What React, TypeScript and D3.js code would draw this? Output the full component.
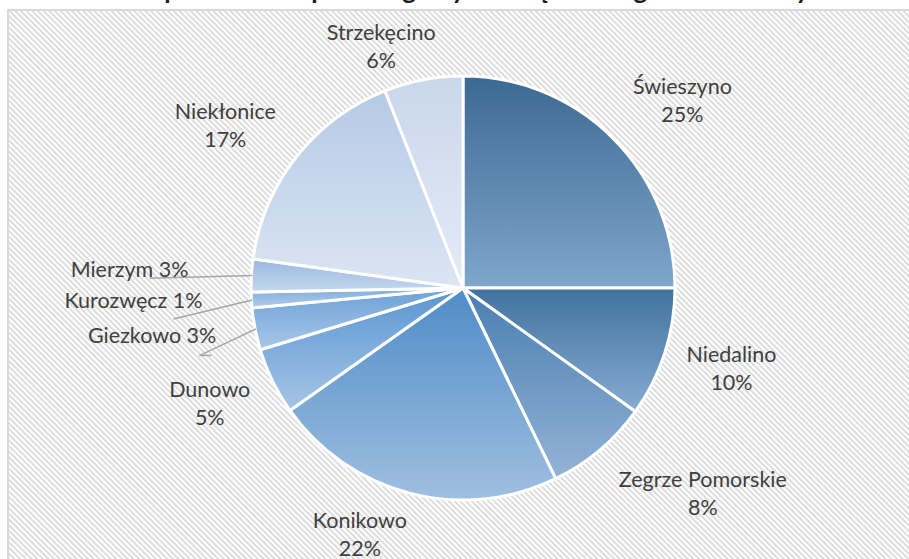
import React from "react";
import * as d3 from "d3";

const categories = [
  "Świeszyno",
  "Niedalino",
  "Zegrze Pomorskie",
  "Konikowo",
  "Dunowo",
  "Giezkowo",
  "Kurozwęcz",
  "Mierzym",
  "Niekłonice",
  "Strzekęcino",
];
const shares = [25.0, 9.9, 7.9, 22.4, 5.1, 3.2, 1.2, 2.5, 16.8, 6.0];
const titleText = "Udział powierzchni poszczególnych obrębów w gminie Świeszyno";

const gradTop = ["#3c6991", "#41729f", "#4a7eb0", "#4f8cc7", "#5a96d2", "#6ba1d8", "#80abdb", "#9ab8e0", "#b5cae6", "#c9d7eb"];
const gradBottom = ["#80a6cc", "#87abd1", "#94b3d6", "#a0bfe0", "#a7c5e6", "#aac7e7", "#b2cdea", "#c5d7ee", "#dbe5f3", "#e4ebf6"];

const W = 909;
const H = 559;
const cx = 463;
const cy = 288;
const R = 212;
const labelR = 282;
// label nudges (layout only)
const nudge: [number, number][] = [
  [20, 11], [0, -6], [58, -11], [-33, -27], [0, -9],
  [30, 0], [21, 4], [7, 6], [-16, 11], [-29, 35],
];
const smallLabel = [false, false, false, false, false, true, true, true, false, false];
// leader line end offsets relative to label anchor (layout only)
const leader: ([number, number][] | null)[] = [
  null, null, null, null, null,
  [[-17, 13], [-5, 13]],
  [[-29, 11]],
  [[-39, 1]],
  null, null,
];

export default function App() {
  const pie = d3.pie<number>().sort(null).value((d) => d).startAngle(0).endAngle(2 * Math.PI);
  const arcs = pie(shares);
  const arc = d3.arc<d3.PieArcDatum<number>>().innerRadius(0).outerRadius(R);
  const polar = (a: number, r: number): [number, number] => [cx + r * Math.sin(a), cy - r * Math.cos(a)];
  const font = "Lato, 'Open Sans', sans-serif";

  return (
    <svg width={W} height={H} style={{ position: "absolute", left: 0, top: 0, background: "#fff" }}>
      <defs>
        <pattern id="hatch" patternUnits="userSpaceOnUse" width={8} height={4} patternTransform="rotate(45)">
          <rect width={8} height={4} fill="#ffffff" />
          <rect width={8} height={1.9} fill="#dcdcdc" />
        </pattern>
        {arcs.map((a, i) => (
          <linearGradient key={i} id={`g${i}`} x1="0" y1="0" x2="0" y2="1">
            <stop offset="0" stopColor={gradTop[i]} />
            <stop offset="1" stopColor={gradBottom[i]} />
          </linearGradient>
        ))}
      </defs>
      <text x={462} y={-1} textAnchor="middle" fontFamily={font} fontWeight="bold" fontSize={26} fill="#1a1a1a">
        {titleText}
      </text>
      <rect x={8} y={10} width={W + 20} height={H + 20} fill="url(#hatch)" stroke="#d9d9d9" strokeWidth={2} />
      <g transform={`translate(${cx},${cy})`}>
        {arcs.map((a, i) => (
          <path key={i} d={arc(a) || ""} fill={`url(#g${i})`} stroke="#ffffff" strokeWidth={3} strokeLinejoin="round" />
        ))}
      </g>
      {arcs.map((a, i) => {
        const mid = (a.startAngle + a.endAngle) / 2;
        const [px, py] = polar(mid, labelR);
        const x = px + nudge[i][0];
        const y = py + nudge[i][1];
        const pct = `${Math.round(shares[i])}%`;
        if (smallLabel[i]) {
          const rim = polar(mid, R - 1);
          const pts = [rim, ...(leader[i] || []).map(([dx, dy]) => [x + dx, y + dy] as [number, number])];
          return (
            <g key={i}>
              <polyline points={pts.map((p) => p.join(",")).join(" ")} fill="none" stroke="#a6a6a6" strokeWidth={1.5} />
              <text x={x} y={y} textAnchor="end" fontFamily={font} fontSize={21.5} fill="#404040">
                {`${categories[i]} ${pct}`}
              </text>
            </g>
          );
        }
        return (
          <text key={i} textAnchor="middle" fontFamily={font} fontSize={21.5} fill="#404040">
            <tspan x={x} y={y - 6}>{categories[i]}</tspan>
            <tspan x={x} y={y + 22}>{pct}</tspan>
          </text>
        );
      })}
    </svg>
  );
}
